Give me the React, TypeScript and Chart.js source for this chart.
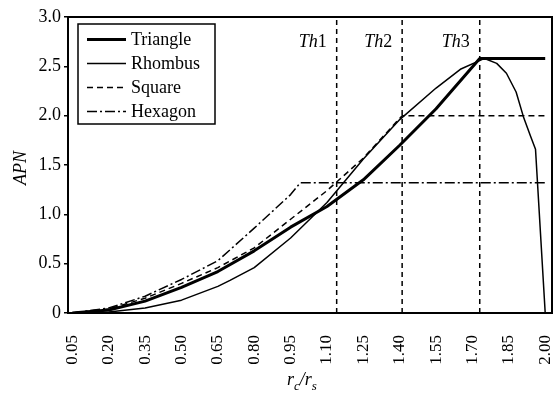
import React, { useEffect, useRef } from "react";
import { Chart, registerables } from "chart.js";

Chart.register(...registerables);

const X_TICKS = [0.05, 0.2, 0.35, 0.5, 0.65, 0.8, 0.95, 1.1, 1.25, 1.4, 1.55, 1.7, 1.85, 2.0];
const X_TICK_LABELS = ["0.05", "0.20", "0.35", "0.50", "0.65", "0.80", "0.95", "1.10", "1.25", "1.40", "1.55", "1.70", "1.85", "2.00"];
const Y_TICKS = [0, 0.5, 1.0, 1.5, 2.0, 2.5, 3.0];
const Y_TICK_LABELS = ["0", "0.5", "1.0", "1.5", "2.0", "2.5", "3.0"];

const SERIES_NAMES = ["Triangle", "Rhombus", "Square", "Hexagon"];

const TRIANGLE_X = [0.05, 0.2, 0.35, 0.5, 0.65, 0.8, 0.95, 1.1, 1.25, 1.4, 1.55, 1.73, 2.0];
const TRIANGLE_Y = [0, 0.03, 0.12, 0.26, 0.42, 0.63, 0.87, 1.08, 1.35, 1.7, 2.07, 2.58, 2.58];

const RHOMBUS_X = [0.05, 0.2, 0.35, 0.5, 0.65, 0.7, 0.8, 0.95, 1.1, 1.25, 1.4, 1.55, 1.65, 1.75, 1.8, 1.84, 1.88, 1.91, 1.94, 1.96, 2.0];
const RHOMBUS_Y = [0, 0.01, 0.05, 0.13, 0.27, 0.33, 0.46, 0.76, 1.12, 1.56, 1.96, 2.28, 2.47, 2.58, 2.53, 2.43, 2.24, 1.99, 1.79, 1.66, 0];

const SQUARE_X = [0.05, 0.2, 0.35, 0.5, 0.65, 0.8, 0.95, 1.1, 1.25, 1.41, 2.0];
const SQUARE_Y = [0, 0.04, 0.15, 0.3, 0.46, 0.66, 0.95, 1.24, 1.57, 2.0, 2.0];

const HEXAGON_X = [0.05, 0.2, 0.35, 0.5, 0.65, 0.8, 0.95, 0.99, 2.0];
const HEXAGON_Y = [0, 0.05, 0.17, 0.34, 0.53, 0.86, 1.2, 1.32, 1.32];

const TH_X = [1.14, 1.41, 1.73];
const TH_NUM = ["1", "2", "3"];

const FONT = "'Liberation Serif', 'Times New Roman', serif";

const zip = (xs: number[], ys: number[]) => xs.map((x, i) => ({ x, y: ys[i] }));

const STYLES = [
  { width: 3, dash: [] as number[] },
  { width: 1.5, dash: [] as number[] },
  { width: 1.5, dash: [6, 4] },
  { width: 1.5, dash: [10, 3, 2, 3] },
];

const overlay = {
  id: "overlay",
  afterDraw(chart: any) {
    const { ctx, chartArea: a, scales } = chart;
    ctx.save();
    ctx.setLineDash([]);
    ctx.strokeStyle = "#000";
    ctx.lineWidth = 2;
    ctx.strokeRect(a.left, a.top, a.right - a.left, a.bottom - a.top);

    // Th labels
    ctx.fillStyle = "#000";
    ctx.textBaseline = "alphabetic";
    TH_X.forEach((v, i) => {
      const px = scales.x.getPixelForValue(v);
      ctx.font = `italic 18px ${FONT}`;
      const w1 = ctx.measureText("Th").width;
      ctx.font = `18px ${FONT}`;
      const w2 = ctx.measureText(TH_NUM[i]).width;
      const x0 = px - 10 - w1 - w2;
      ctx.font = `italic 18px ${FONT}`;
      ctx.textAlign = "left";
      ctx.fillText("Th", x0, 47);
      ctx.font = `18px ${FONT}`;
      ctx.fillText(TH_NUM[i], x0 + w1, 47);
    });

    // Legend
    const lx = 78, ly = 24, lw = 137, lh = 100;
    ctx.fillStyle = "#fff";
    ctx.fillRect(lx, ly, lw, lh);
    ctx.strokeStyle = "#000";
    ctx.lineWidth = 1.5;
    ctx.strokeRect(lx, ly, lw, lh);
    SERIES_NAMES.forEach((name, i) => {
      const cy = 39.5 + i * 24;
      ctx.beginPath();
      ctx.lineWidth = STYLES[i].width;
      ctx.setLineDash(STYLES[i].dash);
      ctx.moveTo(87, cy);
      ctx.lineTo(126, cy);
      ctx.stroke();
      ctx.setLineDash([]);
      ctx.fillStyle = "#000";
      ctx.font = `18px ${FONT}`;
      ctx.textAlign = "left";
      ctx.textBaseline = "middle";
      ctx.fillText(name, 131, cy + 1);
    });

    // Y title
    ctx.save();
    ctx.translate(21, 168);
    ctx.rotate(-Math.PI / 2);
    ctx.font = `italic 18px ${FONT}`;
    ctx.textAlign = "center";
    ctx.textBaseline = "middle";
    ctx.fillStyle = "#000";
    ctx.fillText("APN", 0, 0);
    ctx.restore();

    // X title r_c / r_s
    const parts = [
      { t: "r", size: 18, dy: 0 },
      { t: "c", size: 13, dy: 5 },
      { t: "/", size: 18, dy: 0 },
      { t: "r", size: 18, dy: 0 },
      { t: "s", size: 13, dy: 5 },
    ];
    let total = 0;
    parts.forEach((p) => {
      ctx.font = `italic ${p.size}px ${FONT}`;
      total += ctx.measureText(p.t).width;
    });
    let x = 302 - total / 2;
    ctx.textAlign = "left";
    ctx.textBaseline = "alphabetic";
    ctx.fillStyle = "#000";
    parts.forEach((p) => {
      ctx.font = `italic ${p.size}px ${FONT}`;
      ctx.fillText(p.t, x, 385 + p.dy);
      x += ctx.measureText(p.t).width;
    });
    ctx.restore();
  },
};

export default function App() {
  const ref = useRef<HTMLCanvasElement | null>(null);
  useEffect(() => {
    if (!ref.current) return;
    const seriesData = [
      zip(TRIANGLE_X, TRIANGLE_Y),
      zip(RHOMBUS_X, RHOMBUS_Y),
      zip(SQUARE_X, SQUARE_Y),
      zip(HEXAGON_X, HEXAGON_Y),
    ];
    const datasets: any[] = seriesData.map((d, i) => ({
      label: SERIES_NAMES[i],
      data: d,
      borderColor: "#000",
      borderWidth: STYLES[i].width,
      borderDash: STYLES[i].dash,
      pointRadius: 0,
      tension: 0,
      fill: false,
      borderCapStyle: "butt",
      borderJoinStyle: "round",
    }));
    TH_X.forEach((v, i) => {
      datasets.push({
        label: "Th" + TH_NUM[i],
        data: [
          { x: v, y: 0 },
          { x: v, y: 3 },
        ],
        borderColor: "#000",
        borderWidth: 1.5,
        borderDash: [5, 4],
        pointRadius: 0,
        fill: false,
      });
    });
    const chart = new Chart(ref.current, {
      type: "line",
      data: { datasets },
      options: {
        animation: false,
        responsive: false,
        devicePixelRatio: 1,
        layout: { padding: { left: 0, right: 7, top: 17, bottom: 0 } },
        plugins: { legend: { display: false }, tooltip: { enabled: false } },
        scales: {
          x: {
            type: "linear",
            min: 0.032,
            max: 2.028,
            afterBuildTicks: (s: any) => {
              s.ticks = X_TICKS.map((v) => ({ value: v }));
            },
            afterFit: (s: any) => {
              s.height = 81;
              s.paddingLeft = 0;
              s.paddingRight = 0;
            },
            grid: { display: false },
            border: { display: false },
            ticks: {
              autoSkip: false,
              minRotation: 90,
              maxRotation: 90,
              padding: 14,
              color: "#000",
              font: { family: FONT, size: 17 },
              callback: (v: any) => {
                const i = X_TICKS.findIndex((t) => Math.abs(t - v) < 1e-6);
                return i >= 0 ? X_TICK_LABELS[i] : "";
              },
            },
          },
          y: {
            type: "linear",
            min: 0,
            max: 3,
            afterBuildTicks: (s: any) => {
              s.ticks = Y_TICKS.map((v) => ({ value: v }));
            },
            afterFit: (s: any) => {
              s.width = 68;
              s.paddingTop = 0;
              s.paddingBottom = 0;
            },
            grid: { drawOnChartArea: false, drawTicks: true, tickLength: 4, color: "#000", lineWidth: 1.5 },
            border: { display: false },
            ticks: {
              padding: 3,
              color: "#000",
              font: { family: FONT, size: 18 },
              callback: (v: any) => {
                const i = Y_TICKS.findIndex((t) => Math.abs(t - v) < 1e-6);
                return i >= 0 ? Y_TICK_LABELS[i] : "";
              },
            },
          },
        },
      },
      plugins: [overlay],
    });
    return () => chart.destroy();
  }, []);
  return (
    <div style={{ position: "fixed", left: 0, top: 0, width: 559, height: 394, background: "#fff" }}>
      <canvas ref={ref} width={559} height={394} style={{ display: "block" }} />
    </div>
  );
}
